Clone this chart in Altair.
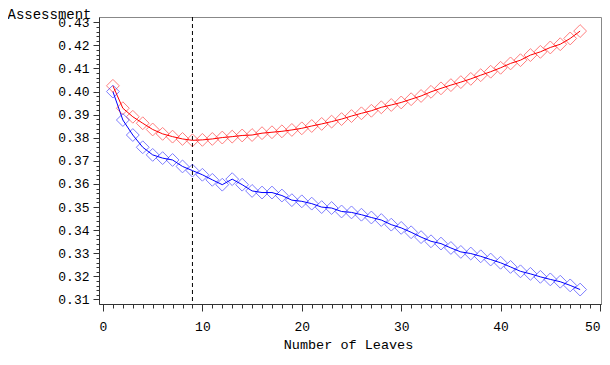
import altair as alt
import pandas as pd

# ---- data ----
leaves = list(range(1, 49))
valid = [0.4025, 0.3928, 0.3891, 0.3863, 0.3836, 0.3817, 0.3805, 0.3795, 0.3789, 0.3791,
         0.3795, 0.3801, 0.3805, 0.3810, 0.3812, 0.3820, 0.3824, 0.3828, 0.3834, 0.3841,
         0.3851, 0.3860, 0.3870, 0.3881, 0.3894, 0.3906, 0.3917, 0.3932, 0.3942, 0.3953,
         0.3967, 0.3981, 0.3999, 0.4014, 0.4028, 0.4041, 0.4055, 0.4071, 0.4086, 0.4103,
         0.4122, 0.4136, 0.4158, 0.4172, 0.4191, 0.4205, 0.4230, 0.4262]
train = [0.4000, 0.3877, 0.3812, 0.3759, 0.3726, 0.3712, 0.3704, 0.3676, 0.3658, 0.3640,
         0.3618, 0.3597, 0.3621, 0.3597, 0.3570, 0.3563, 0.3563, 0.3550, 0.3530, 0.3525,
         0.3515, 0.3500, 0.3496, 0.3481, 0.3477, 0.3467, 0.3455, 0.3444, 0.3424, 0.3410,
         0.3391, 0.3370, 0.3352, 0.3342, 0.3323, 0.3306, 0.3299, 0.3287, 0.3273, 0.3259,
         0.3241, 0.3222, 0.3211, 0.3198, 0.3187, 0.3177, 0.3161, 0.3143]
series_names = ["Valid", "Train"]
series_colors = ["#ff0000", "#0000ff"]
selected_leaves = [9]
x_major = [0, 10, 20, 30, 40, 50]
x_minor = list(range(0, 51))
y_major = [0.31, 0.32, 0.33, 0.34, 0.35, 0.36, 0.37, 0.38, 0.39, 0.40, 0.41, 0.42, 0.43]
y_minor = [round(0.31 + 0.002 * i, 3) for i in range(61)]

df = pd.DataFrame({
    "leaves": leaves + leaves,
    "value": valid + train,
    "series": [series_names[0]] * len(leaves) + [series_names[1]] * len(leaves),
})
cut_df = pd.DataFrame({"cut": selected_leaves})

FONT = "Liberation Mono"
x_scale = alt.Scale(domain=[-0.40, 50.1], nice=False, zero=False)
y_scale = alt.Scale(domain=[0.30805, 0.43229], nice=False, zero=False)

x_major_axis = alt.Axis(
    values=x_major, format="d", orient="bottom", tickSize=7, labelPadding=9,
    labelOverlap=False, labelFlush=False, grid=False,
    labelAlign={"condition": {"test": "datum.value === 50", "value": "right"}, "value": "center"},
    title="Number of Leaves", titleFont=FONT, titleFontSize=13.5, titleFontWeight="normal",
    titleColor="black", titleBaseline="alphabetic", titleAlign="center",
    titleX=249, titleY=44,
)
x_minor_axis = alt.Axis(
    values=x_minor, orient="bottom", tickSize=4, labels=False, domain=False,
    grid=False, title=None,
)
y_major_axis = alt.Axis(
    values=y_major, format=".2f", orient="left", tickSize=6, labelPadding=4,
    labelOverlap=False, labelFlush=False, grid=False,
    title="Assessment", titleFont=FONT, titleFontSize=14, titleFontWeight="normal",
    titleColor="black", titleAngle=0, titleAlign="left", titleBaseline="alphabetic",
    titleX=-92, titleY=1.5,
)
y_minor_axis = alt.Axis(
    values=y_minor, orient="left", tickSize=3, labels=False, domain=False,
    grid=False, title=None,
)

color_enc = alt.Color(
    "series:N",
    scale=alt.Scale(domain=series_names, range=series_colors),
    legend=None,
)

base = alt.Chart(df)
lines = base.mark_line(strokeWidth=1).encode(
    x=alt.X("leaves:Q", scale=x_scale, axis=x_major_axis),
    y=alt.Y("value:Q", scale=y_scale, axis=y_major_axis),
    color=color_enc,
)
points = base.mark_point(shape="diamond", filled=False, size=165, strokeWidth=1, opacity=0.5).encode(
    x=alt.X("leaves:Q", scale=x_scale, axis=x_minor_axis),
    y=alt.Y("value:Q", scale=y_scale, axis=y_minor_axis),
    color=color_enc,
)
cut = alt.Chart(cut_df).mark_rule(color="black", strokeDash=[4, 3], strokeWidth=1).encode(
    x=alt.X("cut:Q", scale=x_scale, axis=None)
)

chart = (
    alt.layer(cut, lines, points)
    .resolve_axis(x="independent", y="independent")
    .properties(
        width=502,
        height=287,
        autosize=alt.AutoSizeParams(type="none"),
        padding={"left": 91, "top": 9, "right": 1, "bottom": 48},
    )
    .configure_view(stroke="#888888", strokeWidth=1)
    .configure_axis(
        labelFont=FONT,
        labelFontSize=13,
        labelColor="black",
        domainColor="#333333",
        tickColor="#333333",
        domainWidth=1,
        tickWidth=1,
    )
)

chart.save("out.html", embed_options={"renderer": "svg", "actions": False})
